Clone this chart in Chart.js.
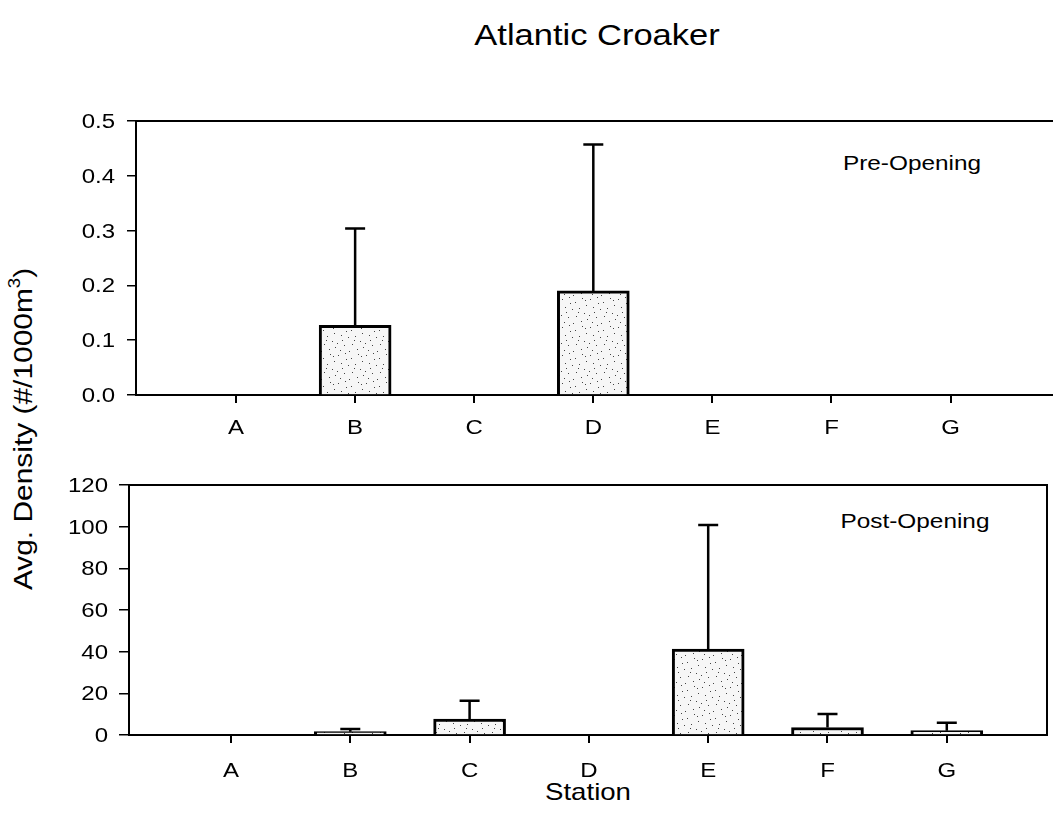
<!DOCTYPE html>
<html><head><meta charset="utf-8">
<script src="https://cdn.jsdelivr.net/npm/chart.js@4/dist/chart.umd.min.js"></script>
<style>
body{margin:0;background:#fff;width:1053px;height:834px;overflow:hidden;position:relative;font-family:"Liberation Sans",Arial,sans-serif;color:#000}
canvas{position:absolute;left:0}
.t{position:absolute;white-space:nowrap;line-height:1}
sup{font-size:62%;line-height:0;vertical-align:0.75em}
</style></head><body>
<div class="t" id="title" style="left:597px;top:20px;font-size:30px;transform:translateX(-50%) scaleX(1.15)">Atlantic Croaker</div>
<div class="t" style="left:912px;top:152px;font-size:21px;transform:translateX(-50%) scaleX(1.16)">Pre-Opening</div>
<div class="t" style="left:915px;top:510px;font-size:21px;transform:translateX(-50%) scaleX(1.16)">Post-Opening</div>
<div class="t" style="left:588px;top:780px;font-size:24px;transform:translateX(-50%) scaleX(1.15)">Station</div>
<div class="t" style="left:23px;top:429px;font-size:26px;transform:translate(-50%,-50%) rotate(-90deg) scaleX(1.15)">Avg. Density (#/1000m<sup>3</sup>)</div>
<canvas id="c1" width="1053" height="360" style="top:100px"></canvas>
<canvas id="c2" width="1053" height="374" style="top:460px"></canvas>
<script>
// ---- data ----
const stations = ['A', 'B', 'C', 'D', 'E', 'F', 'G'];
const preMean  = [0, 0.127, 0, 0.19, 0, 0, 0];
const preErr   = [0, 0.177, 0, 0.267, 0, 0, 0];
const postMean = [0, 1.6, 7.7, 0, 41.3, 3.6, 2.1];
const postErr  = [0, 1.3, 8.8, 0, 59.5, 6.5, 3.8];
const preTicks  = [0, 0.1, 0.2, 0.3, 0.4, 0.5];
const postTicks = [0, 20, 40, 60, 80, 100, 120];

// ---- stipple pattern ----
function makePattern() {
  const c = document.createElement('canvas');
  c.width = 28; c.height = 28;
  const g = c.getContext('2d');
  g.fillStyle = '#f6f6f6'; g.fillRect(0, 0, 28, 28);
  const dots = [[2,3],[9,1],[15,6],[22,2],[26,9],[5,11],[12,13],[19,12],[24,17],[1,19],[8,21],[16,20],[21,25],[4,26],[13,27],[27,23],[10,7],[18,16],[6,16],[25,4]];
  g.fillStyle = '#444';
  dots.forEach(([x, y]) => g.fillRect(x, y, 1, 1));
  return document.getElementById('c1').getContext('2d').createPattern(c, 'repeat');
}
const pattern = makePattern();

const errPlugin = {
  id: 'errbars',
  afterDatasetsDraw(chart, args, opts) {
    const ctx = chart.ctx, xs = chart.scales.x, ys = chart.scales.y;
    const means = chart.data.datasets[0].data;
    ctx.save();
    ctx.strokeStyle = '#000';
    ctx.lineWidth = 2.5;
    opts.errors.forEach((e, i) => {
      if (!e) return;
      const x = xs.getPixelForValue(means[i].x);
      const y0 = ys.getPixelForValue(means[i].y);
      const y1 = ys.getPixelForValue(means[i].y + e);
      ctx.beginPath();
      ctx.moveTo(x, y0); ctx.lineTo(x, y1);
      ctx.moveTo(x - 10, y1); ctx.lineTo(x + 10, y1);
      ctx.stroke();
    });
    ctx.restore();
  }
};
const framePlugin = {
  id: 'frame',
  afterDraw(chart, args, opts) {
    const a = chart.chartArea, ctx = chart.ctx;
    ctx.save();
    ctx.strokeStyle = '#000'; ctx.lineWidth = 2;
    ctx.beginPath();
    ctx.moveTo(a.left - 1, a.top); ctx.lineTo(a.right + 1, a.top);
    if (opts.right) { ctx.moveTo(a.right, a.top); ctx.lineTo(a.right, a.bottom + 1); }
    ctx.stroke();
    ctx.restore();
  }
};
// tick labels drawn from the scales' own ticks, horizontally widened like the original
const labelPlugin = {
  id: 'wideLabels',
  afterDraw(chart, args, opts) {
    const ctx = chart.ctx, xs = chart.scales.x, ys = chart.scales.y;
    ctx.save();
    ctx.fillStyle = '#000';
    ctx.font = '20px "Liberation Sans", Arial, sans-serif';
    ctx.textBaseline = 'alphabetic';
    const put = (txt, x, y, align) => {
      ctx.save();
      ctx.translate(x, y);
      ctx.scale(1.2, 1);
      ctx.textAlign = align;
      ctx.fillText(txt, 0, 0);
      ctx.restore();
    };
    ys.ticks.forEach(t => put(opts.fmt(t.value), opts.yRight, ys.getPixelForValue(t.value) + 7, 'right'));
    xs.ticks.forEach(t => put(stations[t.value - 1], xs.getPixelForValue(t.value), xs.top + opts.xBase, 'center'));
    ctx.restore();
  }
};

function makeChart(id, means, errs, yTicks, cfg) {
  return new Chart(document.getElementById(id), {
    type: 'bar',
    data: {
      datasets: [{
        data: means.map((v, i) => ({ x: i + 1, y: v })),
        backgroundColor: pattern,
        borderColor: '#000',
        borderWidth: 3,
        borderSkipped: 'start',
        barThickness: 72
      }]
    },
    options: {
      responsive: false,
      animation: false,
      devicePixelRatio: 1,
      layout: { padding: { top: cfg.padTop, right: cfg.padRight, left: 0, bottom: 0 } },
      plugins: { legend: { display: false }, tooltip: { enabled: false },
        errbars: { errors: errs }, frame: { right: cfg.rightBorder },
        wideLabels: { fmt: cfg.fmt, yRight: cfg.yRight, xBase: cfg.xBase } },
      scales: {
        x: {
          type: 'linear', min: cfg.xmin, max: cfg.xmax, offset: false,
          afterBuildTicks: s => { s.ticks = stations.map((_, i) => ({ value: i + 1 })); },
          afterFit: s => { s.height = cfg.xh; },
          ticks: { display: false },
          grid: { display: true, offset: false, drawOnChartArea: false, drawTicks: true, tickLength: 8, color: '#000', lineWidth: 2 },
          border: { display: true, color: '#000', width: 2 }
        },
        y: {
          min: 0, max: yTicks[yTicks.length - 1],
          afterBuildTicks: s => { s.ticks = yTicks.map(v => ({ value: v })); },
          afterFit: s => { s.width = cfg.yw; },
          ticks: { display: false },
          grid: { drawOnChartArea: false, drawTicks: true, tickLength: cfg.ytl, color: '#000', lineWidth: 1.5 },
          border: { display: true, color: '#000', width: 2 }
        }
      }
    },
    plugins: [errPlugin, framePlugin, labelPlugin]
  });
}

makeChart('c1', preMean, preErr, preTicks, {
  padTop: 21, padRight: 0, xmin: 0.16, xmax: 7.86, xh: 65, yw: 136, ytl: 9,
  yRight: 115, xBase: 39, rightBorder: false, fmt: v => v.toFixed(1)
});
makeChart('c2', postMean, postErr, postTicks, {
  padTop: 25, padRight: 6, xmin: 0.145, xmax: 7.84, xh: 99, yw: 129, ytl: 10,
  yRight: 108, xBase: 42, rightBorder: true, fmt: v => String(v)
});
</script>
</body></html>
